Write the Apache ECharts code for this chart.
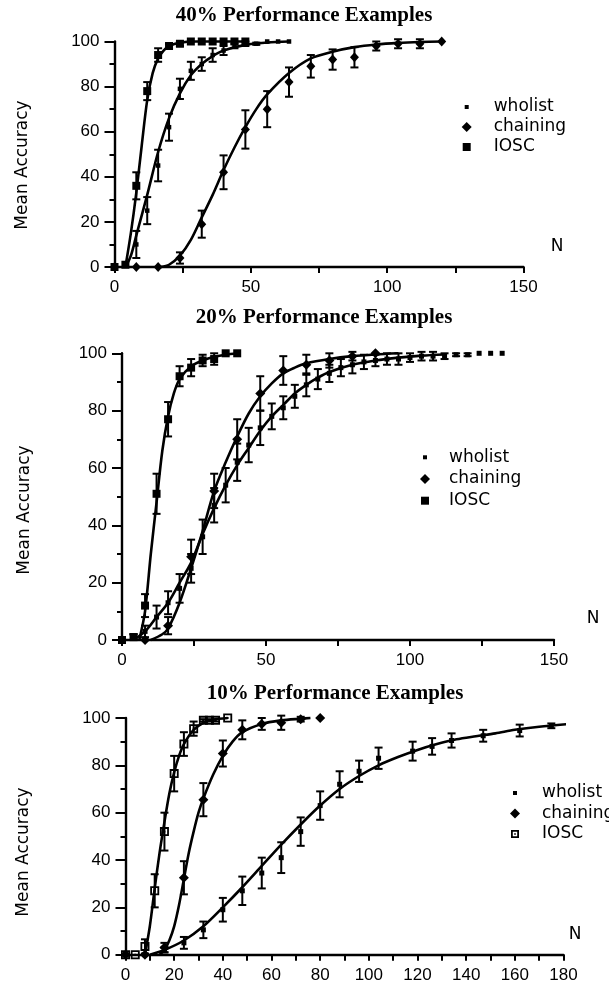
<!DOCTYPE html>
<html>
<head>
<meta charset="utf-8">
<script src="https://cdn.jsdelivr.net/npm/echarts/dist/echarts.min.js"></script>
<style>
  html, body { margin: 0; padding: 0; background: #fff; }
  #chart { width: 609px; height: 989px; }
</style>
</head>
<body>
<div id="chart"></div>
<script>
// ---------- 40% performance examples ----------
const wholist40N   = [0, 4, 8, 12, 16, 20, 24, 28, 32, 36, 40, 44, 48, 52, 56, 60, 64];
const wholist40Acc = [0, 1, 10, 25, 45, 62, 79, 87, 90, 94, 96, 98, 99, 99, 100, 100, 100];
const wholist40Err = [0, 0, 6, 6, 7, 6, 4.5, 4, 3, 3, 2, 1, 1, 0.5, 0, 0, 0];
const chaining40N   = [0, 8, 16, 24, 32, 40, 48, 56, 64, 72, 80, 88, 96, 104, 112, 120];
const chaining40Acc = [0, 0, 0, 4, 19, 42, 61, 70, 82, 89, 92, 93, 98, 99, 99, 100];
const chaining40Err = [0, 0, 0, 2.5, 6, 7.5, 8.5, 8, 6.5, 5, 4.5, 4.5, 2, 2, 2, 0];
const iosc40N   = [0, 4, 8, 12, 16, 20, 24, 28, 32, 36, 40, 44, 48];
const iosc40Acc = [0, 1, 36, 78, 94, 98, 99, 100, 100, 100, 100, 100, 100];
const iosc40Err = [0, 0, 6, 4, 3, 1, 1, 0, 0, 0, 0, 0, 0];
// fitted curves
const wholist40FitN   = [4, 6, 8, 12, 16, 20, 24, 28, 32, 36, 40, 48, 56, 64];
const wholist40FitAcc = [0, 5, 14, 32, 51, 66, 77, 85, 90, 93.5, 96, 98.5, 99.5, 100];
const chaining40FitN   = [17, 20, 24, 28, 32, 36, 40, 44, 48, 52, 56, 64, 72, 80, 88, 96, 104, 112, 120];
const chaining40FitAcc = [0, 1, 5, 12, 22, 32, 43, 53, 62, 70, 76.5, 86, 92.5, 95.5, 97.5, 98.7, 99.4, 99.8, 100];
const iosc40FitN   = [4, 6, 8, 10, 12, 14, 16, 18, 20, 24, 30, 48];
const iosc40FitAcc = [0, 15, 33, 54, 74, 86, 92.5, 96, 98, 99.5, 100, 100];

// ---------- 20% performance examples ----------
const wholist20N   = [0, 4, 8, 12, 16, 20, 24, 28, 32, 36, 40, 44, 48, 52, 56, 60, 64, 68, 72, 76, 80, 84, 88, 92, 96, 100, 104, 108, 112, 116, 120, 124, 128, 132];
const wholist20Acc = [0, 1, 3, 8, 13, 18, 25, 36, 47, 54, 62, 68, 74, 78, 81, 85, 89, 91, 93, 95, 96, 97, 97.5, 98, 98, 98.5, 99, 99, 99, 99.5, 99.5, 100, 100, 100];
const wholist20Err = [0, 1, 2, 4, 4, 5, 5, 6, 6, 6, 6.5, 6, 6, 4.5, 4, 4, 4, 3.5, 3, 3, 3, 2.5, 2, 2, 2, 1.5, 1.5, 1.5, 1, 0.5, 0.5, 0, 0, 0];
const chaining20N   = [0, 8, 16, 24, 32, 40, 48, 56, 64, 72, 80, 88];
const chaining20Acc = [0, 0, 5, 29, 52, 70, 86, 94, 96, 97.5, 99, 100];
const chaining20Err = [0, 0, 3, 6, 6, 7, 6, 5, 3.5, 2.5, 1.5, 0];
const iosc20N   = [0, 4, 8, 12, 16, 20, 24, 28, 32, 36, 40];
const iosc20Acc = [0, 1, 12, 51, 77, 92, 95, 97.5, 98, 100, 100];
const iosc20Err = [0, 1, 4, 7, 6, 3.5, 3, 2, 2, 0, 0];
const wholist20FitN   = [4, 8, 12, 16, 20, 24, 28, 32, 36, 40, 44, 48, 52, 56, 60, 64, 68, 72, 80, 88, 96, 104, 112];
const wholist20FitAcc = [0, 3, 8, 13, 20, 27, 37, 46, 54, 61, 67, 73, 78, 82, 86, 89, 91.5, 93.5, 96, 97.5, 98.5, 99.2, 99.6];
const chaining20FitN   = [10, 14, 16, 20, 24, 28, 32, 36, 40, 44, 48, 52, 56, 60, 64, 72, 80, 88, 96];
const chaining20FitAcc = [0, 2, 4, 13, 25, 38, 52, 62, 71, 79, 85, 89.5, 93, 95, 96.5, 98, 99, 99.6, 100];
const iosc20FitN   = [6, 8, 10, 12, 14, 16, 18, 20, 24, 28, 32, 36, 40];
const iosc20FitAcc = [0, 10, 30, 48, 66, 78, 86, 91, 95.5, 97.5, 98.8, 99.5, 100];

// ---------- 10% performance examples ----------
const wholist10N   = [0, 8, 16, 24, 32, 40, 48, 56, 64, 72, 80, 88, 96, 104, 118, 126, 134, 147, 162, 175];
const wholist10Acc = [0, 0, 2, 5, 10.5, 19, 27, 34.5, 41, 52, 63, 72, 77.5, 83, 86, 88, 90.5, 92.5, 94.7, 96.7];
const wholist10Err = [0, 0, 1, 2.5, 3.5, 5, 6, 6.5, 6.5, 6, 6, 5.5, 4.5, 4.5, 4, 3.5, 3, 2.5, 2.5, 1];
const chaining10N   = [0, 8, 16, 24, 32, 40, 48, 56, 64, 72, 80];
const chaining10Acc = [0, 0, 3, 32.5, 65.5, 85, 95, 97.5, 98, 99.5, 100];
const chaining10Err = [0, 0, 2, 7, 7, 5.5, 4, 2.5, 3, 1, 0];
const iosc10N   = [0, 4, 8, 12, 16, 20, 24, 28, 32, 34.5, 37, 42];
const iosc10Acc = [0, 0, 3.5, 27, 52, 76.5, 89, 95.5, 99, 99, 99, 100];
const iosc10Err = [0, 0, 3, 7, 8, 7.5, 5, 3, 0.5, 0.5, 0.5, 0];
const wholist10FitN   = [10, 16, 24, 32, 40, 48, 56, 64, 72, 80, 88, 96, 104, 112, 120, 128, 136, 144, 152, 160, 170, 183];
const wholist10FitAcc = [0, 2, 6, 12, 20, 28.5, 37.5, 46.5, 55, 63, 70, 75.5, 80, 83.5, 86.5, 89, 91, 92.3, 93.5, 95, 96.3, 97.5];
const chaining10FitN   = [14, 16, 18, 20, 22, 24, 26, 28, 30, 32, 36, 40, 44, 48, 56, 64, 72, 76];
const chaining10FitAcc = [0, 2, 6, 12, 21, 32, 43, 52, 60, 66, 76, 84, 90, 94, 97.5, 99, 99.7, 100];
const iosc10FitN   = [8, 10, 12, 14, 16, 18, 20, 22, 24, 28, 32, 36, 42];
const iosc10FitAcc = [0, 12, 28, 43, 56, 68, 77, 84, 89, 95, 98, 99.3, 100];

// ---------- text ----------
const panelTitles = ['40% Performance Examples', '20% Performance Examples', '10% Performance Examples'];
const methodNames = ['wholist', 'chaining', 'IOSC'];
const yTitle = 'Mean Accuracy';
const xTitle = 'N';
const xMax = [150, 150, 180];
const xStep = [25, 25, 10];
const xLabelStep = [50, 50, 20];

// ---------- styling helpers ----------
const INK = '#000';
const SANS = 'DejaVu Sans';
const OPEN_SQUARE = 'path://M0,0h10v10h-10zM2,2v6h6v-6zM4,4h2v2h-2z';

// legend icon: shape sits at the left of a wider box so the text is pushed right
function legendIcon(shape, w) {
  return 'path://M0,0L0,0M' + w + ',10L' + w + ',10' + shape;
}
const ICON_SMALL = 'M3,3h4v4h-4z';
const ICON_SQUARE = 'M1,1h8v8h-8z';
const ICON_DIAMOND = 'M5,0L10,5L5,10L0,5z';
const ICON_OPEN = 'M1,1h8v8h-8zM2.8,2.8v4.4h4.4v-4.4zM4.2,4.2h1.6v1.6h-1.6z';

const grids = [
  { left: 114.5, right: 85.5, top: 41.5, bottom: 722 },
  { left: 122, right: 55, top: 353.3, bottom: 349 },
  { left: 125.5, right: 45.5, top: 718, bottom: 34.3 }
];

function xAxisCfg(i) {
  return {
    type: 'value', gridIndex: i, min: 0, max: xMax[i], interval: xStep[i],
    axisLine: { show: true, onZero: false, lineStyle: { color: INK, width: 2.4 } },
    axisTick: { show: true, inside: false, length: 6, lineStyle: { color: INK, width: 2 } },
    axisLabel: {
      color: INK, fontFamily: 'Liberation Sans', fontSize: 17, margin: 12,
      formatter: v => (v % xLabelStep[i] === 0 ? String(v) : '')
    },
    splitLine: { show: false }
  };
}
function yAxisCfg(i) {
  return {
    type: 'value', gridIndex: i, min: 0, max: 100, interval: 20,
    axisLine: { show: true, onZero: false, lineStyle: { color: INK, width: 2.4 } },
    axisTick: { show: true, inside: false, length: 10, lineStyle: { color: INK, width: 2 } },
    minorTick: { show: true, splitNumber: 2, length: 5, lineStyle: { color: INK, width: 2 } },
    axisLabel: { color: INK, fontFamily: 'Liberation Sans', fontSize: 17, margin: 15 },
    splitLine: { show: false }, minorSplitLine: { show: false }
  };
}

function fitSeries(name, i, n, acc) {
  return {
    type: 'line', name, xAxisIndex: i, yAxisIndex: i,
    data: n.map((v, k) => [v, acc[k]]),
    showSymbol: false, smooth: 0.3, clip: false, silent: true, z: 2,
    lineStyle: { color: INK, width: 2.6 }, itemStyle: { color: INK }
  };
}
function errSeries(name, i, n, acc, err) {
  const data = [];
  n.forEach((v, k) => { if (err[k] > 0) data.push([v, acc[k] - err[k], acc[k] + err[k]]); });
  return {
    type: 'custom', name, xAxisIndex: i, yAxisIndex: i, data, silent: true, z: 3,
    itemStyle: { color: INK },
    encode: { x: 0, y: [1, 2] },
    renderItem: (params, api) => {
      const lo = api.coord([api.value(0), api.value(1)]);
      const hi = api.coord([api.value(0), api.value(2)]);
      const hw = 4;
      const st = { stroke: INK, lineWidth: 2 };
      return {
        type: 'group',
        children: [
          { type: 'line', shape: { x1: lo[0], y1: lo[1], x2: hi[0], y2: hi[1] }, style: st },
          { type: 'line', shape: { x1: lo[0] - hw, y1: lo[1], x2: lo[0] + hw, y2: lo[1] }, style: st },
          { type: 'line', shape: { x1: hi[0] - hw, y1: hi[1], x2: hi[0] + hw, y2: hi[1] }, style: st }
        ]
      };
    }
  };
}
function markSeries(name, i, n, acc, symbol, size) {
  return {
    type: 'scatter', name, xAxisIndex: i, yAxisIndex: i,
    data: n.map((v, k) => [v, acc[k]]),
    symbol, symbolSize: size, silent: true, z: 4, clip: false,
    itemStyle: { color: INK, opacity: 1 }
  };
}

function legendCfg(left, top, gap, w, icons) {
  return {
    orient: 'vertical', left, top, itemGap: gap, itemWidth: w, itemHeight: 10,
    selectedMode: false, padding: 0,
    textStyle: { fontFamily: SANS, fontSize: 17, color: INK, lineHeight: 18 },
    data: methodNames.map((nm, k) => ({
      name: nm, icon: legendIcon(icons[k], w),
      itemStyle: { color: INK, borderWidth: 0, borderColor: 'transparent' }
    }))
  };
}

const panels = [
  { w: [wholist40N, wholist40Acc, wholist40Err], c: [chaining40N, chaining40Acc, chaining40Err], s: [iosc40N, iosc40Acc, iosc40Err],
    fits: [[wholist40FitN, wholist40FitAcc], [chaining40FitN, chaining40FitAcc], [iosc40FitN, iosc40FitAcc]],
    sym: ['rect', 'diamond', 'rect'], size: [4.5, [9, 10], 8] },
  { w: [wholist20N, wholist20Acc, wholist20Err], c: [chaining20N, chaining20Acc, chaining20Err], s: [iosc20N, iosc20Acc, iosc20Err],
    fits: [[wholist20FitN, wholist20FitAcc], [chaining20FitN, chaining20FitAcc], [iosc20FitN, iosc20FitAcc]],
    sym: ['rect', 'diamond', 'rect'], size: [5, [10, 10], 8] },
  { w: [wholist10N, wholist10Acc, wholist10Err], c: [chaining10N, chaining10Acc, chaining10Err], s: [iosc10N, iosc10Acc, iosc10Err],
    fits: [[wholist10FitN, wholist10FitAcc], [chaining10FitN, chaining10FitAcc], [iosc10FitN, iosc10FitAcc]],
    sym: ['rect', 'diamond', OPEN_SQUARE], size: [5, [10, 10], 9] }
];

const series = [];
panels.forEach((p, i) => {
  const groups = [p.w, p.c, p.s];
  groups.forEach((g, k) => {
    series.push(fitSeries(methodNames[k], i, p.fits[k][0], p.fits[k][1]));
  });
  groups.forEach((g, k) => {
    series.push(errSeries(methodNames[k], i, g[0], g[1], g[2]));
  });
  groups.forEach((g, k) => {
    series.push(markSeries(methodNames[k], i, g[0], g[1], p.sym[k], p.size[k]));
  });
});

function label(x, y, text, font, rot) {
  return {
    type: 'text', x, y, rotation: rot || 0, silent: true,
    style: { text, font, fill: INK, align: 'center', verticalAlign: 'middle', textAlign: 'center', textVerticalAlign: 'middle' }
  };
}
const TITLE_FONT = 'bold 21px "Liberation Serif"';
const AXIS_FONT = '17px "DejaVu Sans"';

const option = {
  backgroundColor: '#fff',
  animation: false,
  grid: grids.map(g => Object.assign({ containLabel: false, outerBoundsMode: 'none' }, g)),
  xAxis: [0, 1, 2].map(xAxisCfg),
  yAxis: [0, 1, 2].map(yAxisCfg),
  legend: [
    legendCfg(461.7, 98, 2, 27, [ICON_SMALL, ICON_DIAMOND, ICON_SQUARE]),
    legendCfg(420, 448.3, 3.7, 24, [ICON_SMALL, ICON_DIAMOND, ICON_SQUARE]),
    legendCfg(510, 784, 2.5, 27, [ICON_SMALL, ICON_DIAMOND, ICON_OPEN])
  ],
  graphic: [
    label(304, 16, panelTitles[0], TITLE_FONT),
    label(324, 318, panelTitles[1], TITLE_FONT),
    label(335, 694, panelTitles[2], TITLE_FONT),
    label(23, 165, yTitle, AXIS_FONT, Math.PI / 2),
    label(25, 510, yTitle, AXIS_FONT, Math.PI / 2),
    label(24, 852, yTitle, AXIS_FONT, Math.PI / 2),
    label(557, 247, xTitle, AXIS_FONT),
    label(593, 619, xTitle, AXIS_FONT),
    label(575, 935, xTitle, AXIS_FONT)
  ],
  series
};

const chart = echarts.init(document.getElementById('chart'), null, { renderer: 'canvas' });
chart.setOption(option);
</script>
</body>
</html>
